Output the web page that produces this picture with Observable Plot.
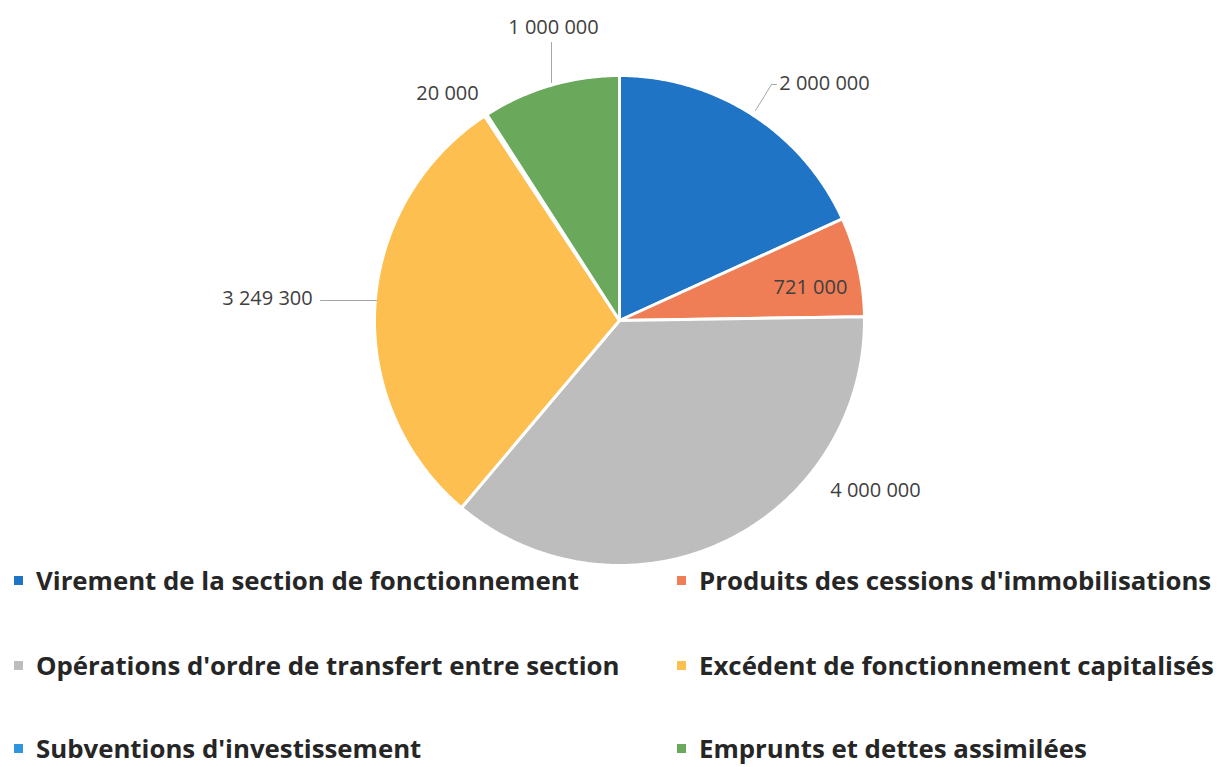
<!DOCTYPE html>
<html><head><meta charset="utf-8">
<script src="https://cdn.jsdelivr.net/npm/d3@7"></script>
<script src="https://cdn.jsdelivr.net/npm/@observablehq/plot@0.6"></script>
<style>
body{margin:0;background:#fff;font-family:"Open Sans",sans-serif;overflow:hidden}
#chart svg{display:block}
#legend{position:relative;width:1226px;height:197px;}
.item{position:absolute;display:flex;align-items:center;font-weight:bold;font-size:25.8px;color:#262626;white-space:nowrap}
.sw{width:9px;height:9px;margin-right:13px}
</style></head>
<body><div id="chart"></div><div id="legend"></div>
<script>
const categories = ["Virement de la section de fonctionnement","Produits des cessions d'immobilisations","Opérations d'ordre de transfert entre section","Excédent de fonctionnement capitalisés","Subventions d'investissement","Emprunts et dettes assimilées"];
const values = [2000000, 721000, 4000000, 3249300, 20000, 1000000];
const valueLabels = ["2 000 000","721 000","4 000 000","3 249 300","20 000","1 000 000"];
const colors = ["#1f74c6","#ef7d55","#bdbdbd","#fdbf4f","#2f96de","#6aa95c"];

const R = 245, cx = 619, cy = 320;
const px = v => (v - cx) / R, py = v => (cy - v) / R;

// label centres (in pixels of the reference, converted to pie units)
const labelPos = [[824,83],[810,287],[875,490],[267,298],[447,93],[553,27]];
// leader line paths
const leaderPaths = [
  [[755,110],[771,84],[776,84]],
  [[376,300],[320,300]],
  [[551,82],[551,42]]
];

const data = categories.map((c,i)=>({c, v: values[i], label: valueLabels[i], color: colors[i], i}));
const arcs = d3.pie().sort(null).value(d=>d.v)(data);
const toXY = (a, r) => [r*Math.sin(a), r*Math.cos(a)];
const pts = [];
for (const a of arcs) {
  pts.push({k:a.index, x:0, y:0, color:a.data.color});
  const n = Math.max(2, Math.ceil((a.endAngle-a.startAngle)/0.01));
  for (let j=0;j<=n;j++){
    const t = a.startAngle + (a.endAngle-a.startAngle)*j/n;
    const [x,y] = toXY(t,1);
    pts.push({k:a.index, x, y, color:a.data.color});
  }
  pts.push({k:a.index, x:0, y:0, color:a.data.color});
}
const labels = data.map((d,i)=>({x:px(labelPos[i][0]), y:py(labelPos[i][1]), text:d.label}));
const leaders = [];
leaderPaths.forEach((p,k)=>p.forEach(([a,b])=>leaders.push({k, x:px(a), y:py(b)})));

const plot = Plot.plot({
  width: 1226, height: 570,
  margin: 0,
  x: {domain:[-1,1], range:[cx-R, cx+R], axis: null},
  y: {domain:[-1,1], range:[cy+R, cy-R], axis: null},
  marks: [
    Plot.line(pts, {x:"x", y:"y", z:"k", fill: d=>d.color, stroke:"#fff", strokeWidth:3, strokeLinejoin:"round", curve:"linear"}),
    Plot.line(leaders, {x:"x", y:"y", z:"k", stroke:"#a6a6a6", strokeWidth:1}),
    Plot.text(labels, {x:"x", y:"y", text:"text", fontSize:20, fill:"#404040", fontFamily:"'Open Sans', sans-serif"})
  ]
});
document.getElementById("chart").append(plot);

const legend = document.getElementById("legend");
const rowTop = [10, 95, 178];
categories.forEach((cat,k)=>{
  const row = Math.floor(k/2), col = k%2;
  const el = document.createElement("div");
  el.className="item";
  el.style.left = (col===0?14:677)+"px";
  el.style.top = (rowTop[row]-18)+"px";
  el.innerHTML = `<span class="sw" style="background:${colors[k]}"></span><span>${cat}</span>`;
  legend.append(el);
});
</script></body></html>
